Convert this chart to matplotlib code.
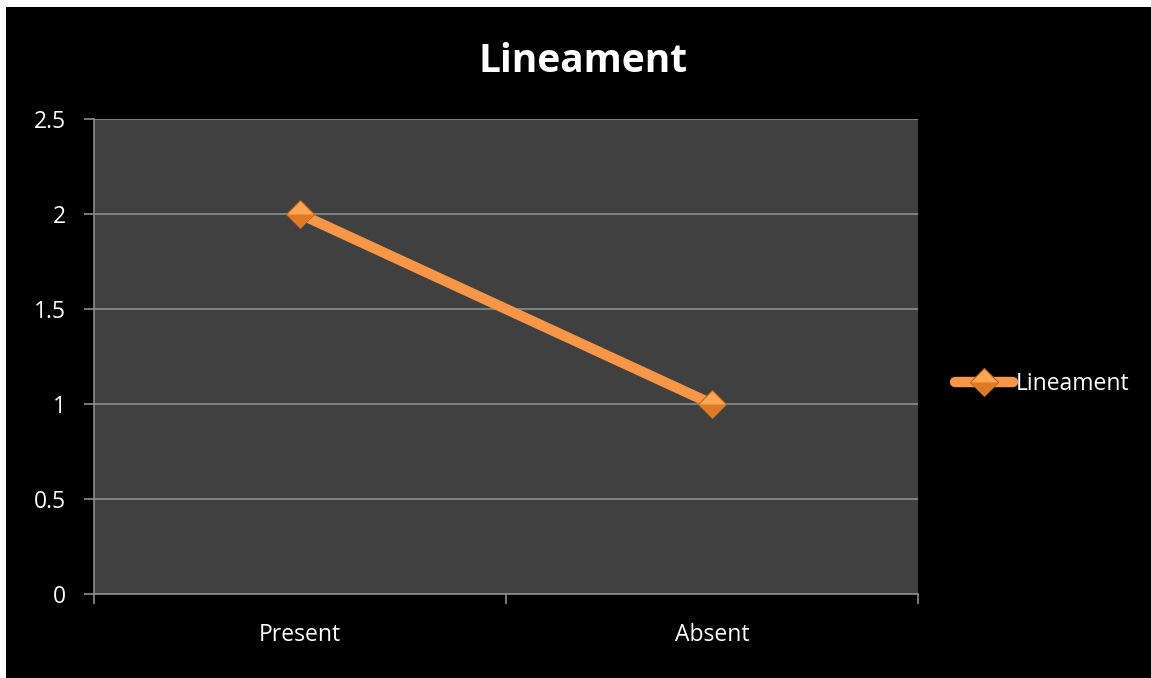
import matplotlib
matplotlib.use("Agg")
import matplotlib.pyplot as plt
from matplotlib.patches import Rectangle
from matplotlib.lines import Line2D
from matplotlib.legend_handler import HandlerTuple

categories = ["Present", "Absent"]
values = [2, 1]
series_name = "Lineament"
y_ticks = [0, 0.5, 1, 1.5, 2, 2.5]
y_tick_labels = ["0", "0.5", "1", "1.5", "2", "2.5"]

W, H, DPI = 1151, 678, 100
plt.rcParams["font.family"] = ["Open Sans", "DejaVu Sans"]

fig = plt.figure(figsize=(W / DPI, H / DPI), dpi=DPI, facecolor="white")
# black chart area, leaving a thin white margin on the left and top
fig.patches.append(Rectangle((6 / W, 0), 1 - 6 / W, 1 - 7 / H,
                             transform=fig.transFigure, facecolor="black",
                             edgecolor="none", zorder=-10))

left, right, top, bottom = 94 / W, 918 / W, 1 - 119 / H, 1 - 594 / H
ax = fig.add_axes([left, bottom, right - left, top - bottom])
ax.set_facecolor("#404040")

orange = "#F79646"
light = "#FCA552"
dark = "#DE7A26"
edge = "#B9661E"
# lower half of a diamond, drawn over the marker for a shaded look
lower_half = [(-1, 0), (1, 0), (0, -1), (-1, 0)]
MS = 14

x = list(range(len(categories)))
ax.plot(x, values, color=orange, lw=7.5, solid_capstyle="butt", zorder=3)
ax.plot(x, values, ls="none", marker="D", ms=MS, mfc=light, mec=edge,
        mew=0.8, zorder=4)
ax.plot(x, values, ls="none", marker=lower_half, ms=MS * 2 ** 0.5 - 1,
        mfc=dark, mec="none", zorder=5)

ax.set_xlim(-0.5, len(categories) - 0.5)
ax.set_ylim(0, 2.5)
ax.set_yticks(y_ticks)
ax.set_yticklabels(y_tick_labels)
ax.yaxis.grid(True, color="#8C8C8C", lw=1.2)
ax.set_axisbelow(True)

# category labels centred, tick marks between categories
ax.set_xticks(x)
ax.set_xticklabels(categories)
ax.tick_params(axis="x", length=0, pad=21)
ax.set_xticks([i - 0.5 for i in range(len(categories) + 1)], minor=True)
ax.tick_params(axis="x", which="minor", length=7, width=1.2, color="#8C8C8C")
ax.tick_params(axis="y", length=7, width=1.2, color="#8C8C8C", pad=13)
ax.tick_params(labelsize=16.5, labelcolor="white")

for s in ["top", "right"]:
    ax.spines[s].set_visible(False)
for s in ["left", "bottom"]:
    ax.spines[s].set_color("#8C8C8C")
    ax.spines[s].set_linewidth(1.2)

fig.text(583 / W, 1 - 72 / H, series_name, color="white", fontsize=28,
         fontweight="bold", ha="center", va="baseline")

h_line = Line2D([], [], color=orange, lw=7.5, solid_capstyle="round")
h_mark = Line2D([], [], ls="none", marker="D", ms=MS, mfc=light, mec=edge,
                mew=0.8)
h_half = Line2D([], [], ls="none", marker=lower_half, ms=MS * 2 ** 0.5 - 1,
                mfc=dark, mec="none")
fig.legend([(h_line, h_mark, h_half)], [series_name], loc="center left",
           bbox_to_anchor=(955 / W, 1 - 384 / H), frameon=False,
           fontsize=16.5, labelcolor="white", handlelength=2.55,
           handletextpad=0.12, borderaxespad=0, borderpad=0,
           handler_map={tuple: HandlerTuple(ndivide=1, pad=0)})

fig.savefig("out.png", dpi=DPI, facecolor=fig.get_facecolor())
